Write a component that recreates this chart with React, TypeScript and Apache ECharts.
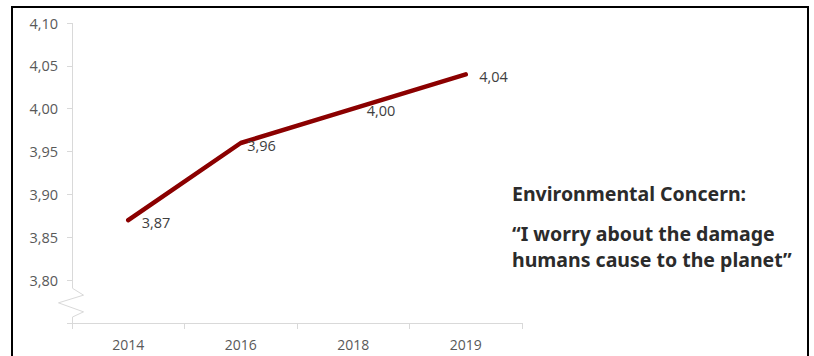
import React, { useEffect, useRef } from "react";
import * as echarts from "echarts";

// Survey years and mean agreement score
const years = ["2014", "2016", "2018", "2019"];
const concern = [3.87, 3.96, 4.0, 4.04];

// Value axis range (bottom of axis is broken below 3,80)
const yMin = 3.75;
const yMax = 4.1;
const yStep = 0.05;
const breakValue = 3.8;

// Side annotation
const noteTitle = "Environmental Concern:";
const noteQuote = ["\u201CI worry about the damage", "humans cause to the planet\u201D"];

const fmt = (v: number) => v.toFixed(2).replace(".", ",");

export default function App() {
  const ref = useRef<HTMLDivElement>(null);

  useEffect(() => {
    if (!ref.current) return;
    const chart = echarts.init(ref.current, null, { renderer: "svg" });
    const gridLeft = 72;
    const axisGray = "#d9d9d9";
    const lineColor = "#8b0000";
    const labelFont = "'Open Sans', sans-serif";
    const noteFont = "'Noto Sans', sans-serif";

    // The label at the 2016 elbow sits tucked in closer to the line
    const seriesData = concern.map((v, i) =>
      i === 1 ? { value: v, label: { distance: 6 } } : v
    );

    chart.setOption({
      animation: false,
      backgroundColor: "#ffffff",
      grid: { left: gridLeft, right: 292, top: 23, bottom: 33, containLabel: false },
      xAxis: {
        type: "category",
        data: years,
        boundaryGap: true,
        axisLine: { lineStyle: { color: axisGray, width: 1 } },
        axisTick: { show: true, length: 6, lineStyle: { color: axisGray } },
        axisLabel: { color: "#595959", fontSize: 14, fontFamily: labelFont, margin: 14 },
        splitLine: { show: false },
      },
      yAxis: {
        type: "value",
        min: yMin,
        max: yMax,
        interval: yStep,
        axisLine: { show: false },
        axisTick: { show: true, length: 5, lineStyle: { color: axisGray } },
        axisLabel: {
          color: "#595959",
          fontSize: 14.5,
          fontFamily: labelFont,
          margin: 14,
          formatter: (v: number) => (Math.abs(v - yMin) < 1e-6 ? "" : fmt(v)),
        },
        splitLine: { show: false },
      },
      series: [
        {
          type: "line",
          data: seriesData,
          symbol: "circle",
          symbolSize: 1,
          showSymbol: true,
          itemStyle: { color: lineColor },
          lineStyle: { color: lineColor, width: 4.5, cap: "round", join: "round" },
          label: {
            show: true,
            position: "right",
            distance: 13,
            offset: [0, 2],
            color: "#404040",
            fontSize: 14.5,
            fontFamily: labelFont,
            formatter: (p: any) => fmt(p.value),
          },
        },
      ],
      graphic: [
        {
          id: "frame",
          type: "rect",
          shape: { x: 12, y: 7, width: 796, height: 360 },
          style: { fill: "none", stroke: "#000000", lineWidth: 2 },
          silent: true,
        },
        {
          id: "noteTitle",
          type: "text",
          x: 512,
          y: 193,
          style: {
            text: noteTitle,
            font: `bold 19.5px ${noteFont}`,
            fill: "#2b2b2b",
            verticalAlign: "middle",
          },
        },
        ...noteQuote.map((line, i) => ({
          id: "noteQuote" + i,
          type: "text",
          x: 512,
          y: 233 + i * 26,
          style: {
            text: line,
            font: `bold 19.5px ${noteFont}`,
            fill: "#2b2b2b",
            verticalAlign: "middle",
          },
        })),
      ],
    });

    // Y axis line with a zigzag break between the lowest labelled tick and the base
    const yTop = chart.convertToPixel({ yAxisIndex: 0 }, yMax) as number;
    const yBreak = chart.convertToPixel({ yAxisIndex: 0 }, breakValue) as number;
    const yBase = chart.convertToPixel({ yAxisIndex: 0 }, yMin) as number;
    const span = yBase - yBreak;
    const ax = gridLeft + 0.5;
    chart.setOption({
      graphic: [
        {
          id: "yAxisBreak",
          type: "polyline",
          shape: {
            points: [
              [ax, yTop],
              [ax, yBreak + 0.19 * span],
              [ax + 11, yBreak + 0.35 * span],
              [ax - 14, yBreak + 0.53 * span],
              [ax + 11, yBreak + 0.74 * span],
              [ax, yBreak + 0.86 * span],
              [ax, yBase],
            ],
          },
          style: { fill: "none", stroke: axisGray, lineWidth: 1 },
          silent: true,
        },
      ],
    });

    return () => chart.dispose();
  }, []);

  return (
    <div
      ref={ref}
      style={{ position: "fixed", left: 0, top: 0, width: 814, height: 356, background: "#fff" }}
    />
  );
}
